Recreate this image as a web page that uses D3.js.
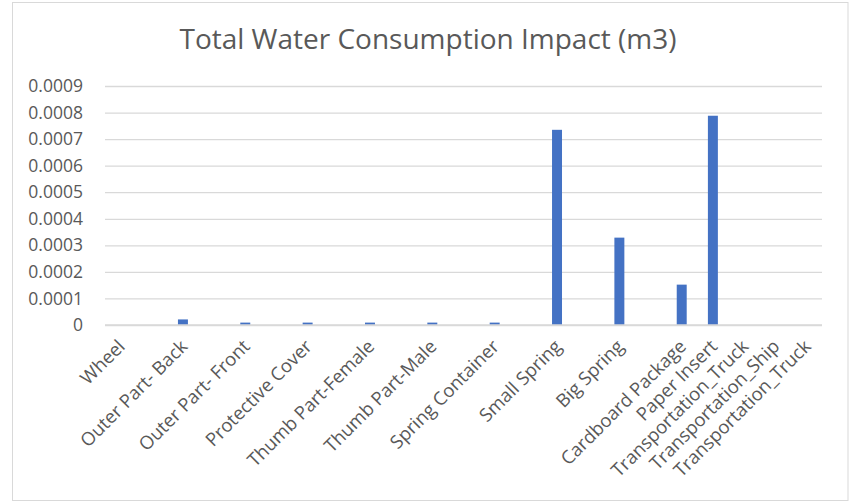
<!DOCTYPE html>
<html>
<head>
<meta charset="utf-8">
<script src="https://cdn.jsdelivr.net/npm/d3@7"></script>
<style>
  html, body { margin: 0; padding: 0; background: #fff; }
  svg { display: block; }
  text { font-family: "Open Sans", "Liberation Sans", sans-serif; fill: #595959; }
</style>
</head>
<body>
<svg id="chart" width="855" height="503"></svg>
<script>
// Component list as laid out in the worksheet (blank rows keep their slot on the axis)
const categories = [
  "Wheel", "", "Outer Part- Back", "", "Outer Part- Front", "", "Protective Cover", "",
  "Thumb Part-Female", "", "Thumb Part-Male", "", "Spring Container", "", "Small Spring", "",
  "Big Spring", "", "Cardboard Package", "Paper Insert", "Transportation_Truck",
  "Transportation_Ship", "Transportation_Truck"
];
// Water consumption per component (m3); null for blank rows
const waterValues = [
  0, null, 0.000021, null, 0.000009, null, 0.000009, null,
  0.000009, null, 0.000009, null, 0.000009, null, 0.000735, null,
  0.000329, null, 0.000152, 0.000788, 0, 0, 0
];
const yTicks = [0, 0.0001, 0.0002, 0.0003, 0.0004, 0.0005, 0.0006, 0.0007, 0.0008, 0.0009];
const chartTitle = "Total Water Consumption Impact (m3)";

const svg = d3.select("#chart");
const plot = { left: 105, right: 822, top: 86, bottom: 325 };

// Chart frame
svg.append("rect")
  .attr("x", 12.5).attr("y", 2.5)
  .attr("width", 835.5).attr("height", 498)
  .attr("fill", "#fff").attr("stroke", "#d9d9d9").attr("stroke-width", 1);

// Title
svg.append("text")
  .attr("x", 428).attr("y", 49)
  .attr("text-anchor", "middle")
  .style("font-size", "28px")
  .text(chartTitle);

const idx = d3.range(categories.length);
const x = d3.scaleBand()
  .domain(idx)
  .range([plot.left, plot.right])
  .paddingInner(0.68)
  .paddingOuter(0.34);

const y = d3.scaleLinear()
  .domain([0, 0.0009])
  .range([plot.bottom, plot.top]);

// Horizontal gridlines and value labels
const yAxis = d3.axisLeft(y)
  .tickValues(yTicks)
  .tickSize(-(plot.right - plot.left))
  .tickPadding(22)
  .tickFormat(d => d === 0 ? "0" : d3.format(".4f")(d));

const gy = svg.append("g")
  .attr("transform", `translate(${plot.left},0)`)
  .call(yAxis);
gy.select(".domain").remove();
gy.selectAll(".tick line").attr("stroke", "#d9d9d9").attr("stroke-width", 1.3);
gy.selectAll(".tick text")
  .style("font-size", "17.5px")
  .attr("fill", "#595959");

// Bars
svg.append("g")
  .selectAll("rect")
  .data(idx.filter(i => waterValues[i] !== null && waterValues[i] > 0))
  .join("rect")
  .attr("x", i => x(i))
  .attr("width", x.bandwidth())
  .attr("y", i => y(waterValues[i]))
  .attr("height", i => y(0) - y(waterValues[i]))
  .attr("fill", "#4472c4");

// Category axis line
svg.append("line")
  .attr("x1", plot.left).attr("x2", plot.right)
  .attr("y1", y(0)).attr("y2", y(0))
  .attr("stroke", "#d9d9d9").attr("stroke-width", 1.5);

// Rotated category labels
svg.append("g")
  .selectAll("text")
  .data(idx.filter(i => categories[i] !== ""))
  .join("text")
  .attr("text-anchor", "end")
  .attr("transform", i => `translate(${x(i) + x.bandwidth() / 2 + 1},${y(0) + 18}) rotate(-45)`)
  .attr("dy", "0.35em")
  .style("font-size", "18.5px")
  .text(i => categories[i]);
</script>
</body>
</html>
